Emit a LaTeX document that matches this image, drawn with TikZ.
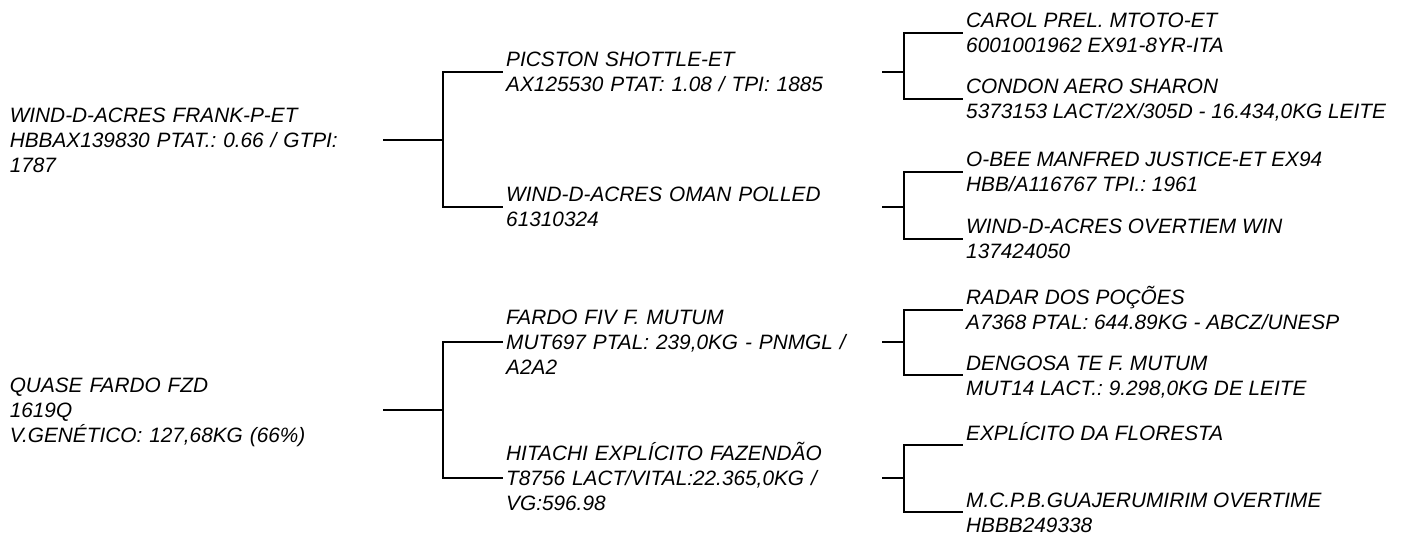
\documentclass[tikz,border=0pt]{standalone}
\usepackage{fontspec}
\setmainfont{Liberation Sans}
\frenchspacing
\newcommand\pstr{\rule[-5pt]{0pt}{25pt}}
\begin{document}
\begin{tikzpicture}[x=1pt,y=-1pt,
  txt/.style={font=\fontsize{20.8}{25}\selectfont\itshape\frenchspacing, align=left,
    inner xsep=3pt, inner ysep=0pt, anchor=west},
  rootbox/.style={txt, text width=370pt, anchor=east},
  midbox/.style={txt, text width=373pt},
  link/.style={line width=2.8pt}]
\useasboundingbox (0,0) rectangle (1404,534);

% level 1
\node[rootbox] (rA) at (383,140) {\pstr WIND-D-ACRES FRANK-P-ET\\\pstr HBBAX139830 PTAT.: 0.66 / GTPI:\\\pstr 1787};
\node[rootbox] (rB) at (383,410) {\pstr QUASE FARDO FZD\\\pstr 1619Q\\\pstr V.GENÉTICO: 127,68KG (66\%)};

% level 2
\node[midbox] (p1) at (503,72) {\pstr PICSTON SHOTTLE-ET\\\pstr AX125530 PTAT: 1.08 / TPI: 1885};
\node[midbox] (p2) at (503,207) {\pstr WIND-D-ACRES OMAN POLLED\\\pstr 61310324};
\node[midbox] (p3) at (503,342) {\pstr FARDO FIV F. MUTUM\\\pstr MUT697 PTAL: 239,0KG - PNMGL /\\\pstr A2A2};
\node[midbox] (p4) at (503,478) {\pstr HITACHI EXPLÍCITO FAZENDÃO\\\pstr T8756 LACT/VITAL:22.365,0KG /\\\pstr VG:596.98};

% level 3
\node[txt] (g1) at (963,33) {\pstr CAROL PREL. MTOTO-ET\\\pstr 6001001962 EX91-8YR-ITA};
\node[txt] (g2) at (963,99) {\pstr CONDON AERO SHARON\\\pstr 5373153 LACT/2X/305D - 16.434,0KG LEITE};
\node[txt] (g3) at (963,172) {\pstr O-BEE MANFRED JUSTICE-ET EX94\\\pstr HBB/A116767 TPI.: 1961};
\node[txt] (g4) at (963,239) {\pstr WIND-D-ACRES OVERTIEM WIN\\\pstr 137424050};
\node[txt] (g5) at (963,310) {\pstr RADAR DOS POÇÕES\\\pstr A7368 PTAL: 644.89KG - ABCZ/UNESP};
\node[txt] (g6) at (963,375) {\pstr DENGOSA TE F. MUTUM\\\pstr MUT14 LACT.: 9.298,0KG DE LEITE};
\node[txt] (g7) at (963,445) {\pstr EXPLÍCITO DA FLORESTA\\\pstr};
\node[txt] (g8) at (963,512) {\pstr M.C.P.B.GUAJERUMIRIM OVERTIME\\\pstr HBBB249338};

% junctions
\coordinate (jA) at (443,140);
\coordinate (jB) at (443,410);
\coordinate (k1) at (904,72);
\coordinate (k2) at (904,207);
\coordinate (k3) at (904,342);
\coordinate (k4) at (904,478);

% connectors
\draw[link] (rA.east) -- (jA) |- (p1.west);
\draw[link] (jA) |- (p2.west);
\draw[link] (rB.east) -- (jB) |- (p3.west);
\draw[link] (jB) |- (p4.west);

\draw[link] (p1.east) -- (k1) |- (g1.west);
\draw[link] (k1) |- (g2.west);
\draw[link] (p2.east) -- (k2) |- (g3.west);
\draw[link] (k2) |- (g4.west);
\draw[link] (p3.east) -- (k3) |- (g5.west);
\draw[link] (k3) |- (g6.west);
\draw[link] (p4.east) -- (k4) |- (g7.west);
\draw[link] (k4) |- (g8.west);
\end{tikzpicture}
\end{document}
